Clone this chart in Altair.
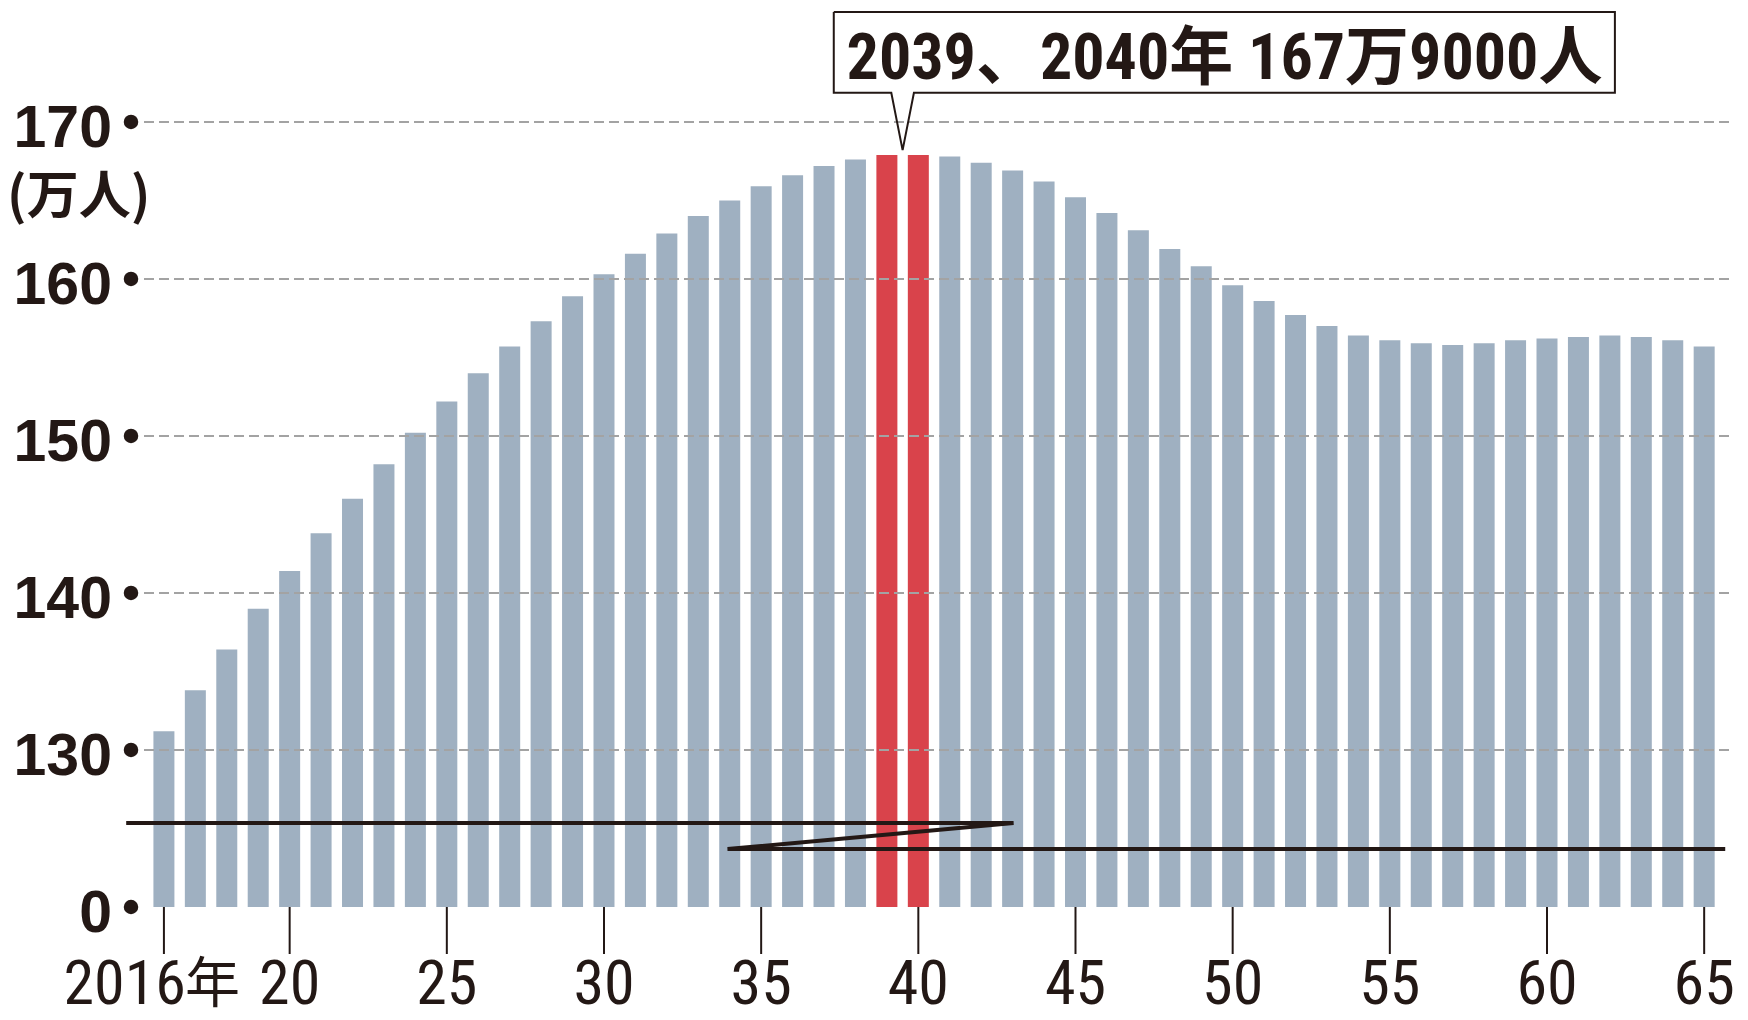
import altair as alt
import pandas as pd

# ---- data ----
years = list(range(2016, 2066))
deaths = [131.2, 133.8, 136.4, 139.0, 141.4, 143.8, 146.0, 148.2, 150.2, 152.2,
          154.0, 155.7, 157.3, 158.9, 160.3, 161.6, 162.9, 164.0, 165.0, 165.9,
          166.6, 167.2, 167.6, 167.9, 167.9, 167.8, 167.4, 166.9, 166.2, 165.2,
          164.2, 163.1, 161.9, 160.8, 159.6, 158.6, 157.7, 157.0, 156.4, 156.1,
          155.9, 155.8, 155.9, 156.1, 156.2, 156.3, 156.4, 156.3, 156.1, 155.7]
peak_years = [2039, 2040]
base_value = 120  # scale position drawn as "0" (axis is broken)

ytick_values = [120, 130, 140, 150, 160, 170]
ytick_labels = ["0", "130", "140", "150", "160", "170"]
grid_values = [130, 140, 150, 160, 170]
unit_label = "(万人)"
major_years = [2016, 2020, 2025, 2030, 2035, 2040, 2045, 2050, 2055, 2060, 2065]
major_labels = ["2016", "20", "25", "30", "35", "40", "45", "50", "55", "60", "65"]
first_suffix = "年"

# axis-break zigzag (year, value)
break_x = [2014.8, 2043.03, 2033.93, 2065.67]
break_y = [125.35, 125.35, 123.69, 123.69]

# callout box with pointer (year, value)
callout_x = [2037.31, 2062.16, 2062.16, 2039.86, 2039.5, 2039.14, 2037.31, 2037.31]
callout_y = [177.0, 177.0, 171.85, 171.85, 168.2, 171.85, 171.85, 177.0]
callout_text = "2039、2040年 167万9000人"
callout_pos = (2049.74, 172.75)

# ---- styling ----
W, H = 1582, 895
DARK = "#231815"
BAR = "#9fb0c1"
RED = "#d9434b"
GRID = "#a3a3a3"
NUM_FONT = "Liberation Sans"
NARROW = "Liberation Sans Narrow, Roboto Condensed, Liberation Sans, Noto Sans CJK JP"
CJK = "Noto Sans CJK JP"

xs = alt.Scale(domain=[2015.43, 2065.44], nice=False, zero=False)
ys = alt.Scale(domain=[120, 177], nice=False, zero=False)

df = pd.DataFrame({"year": years, "value": deaths})
df["base"] = base_value
df["kind"] = ["peak" if y in peak_years else "normal" for y in years]

bars = alt.Chart(df).mark_bar(size=21).encode(
    x=alt.X("year:Q", scale=xs,
            axis=alt.Axis(values=years, labels=False, title=None, grid=False,
                          ticks=True, tickSize=20, tickWidth=2, tickColor=DARK,
                          domain=True, domainWidth=3, domainColor=DARK)),
    y=alt.Y("value:Q", scale=ys, axis=None),
    y2=alt.Y2("base:Q"),
    color=alt.Color("kind:N", scale=alt.Scale(domain=["normal", "peak"], range=[BAR, RED]),
                    legend=None),
)

gdf = pd.DataFrame({"value": grid_values})
grid = alt.Chart(gdf).mark_rule(color=GRID, strokeWidth=2, strokeDash=[10, 5]).encode(
    y=alt.Y("value:Q", scale=ys, axis=None),
    x=alt.value(3),
    x2=alt.value(W + 6),
)

tdf = pd.DataFrame({"value": ytick_values, "label": ytick_labels})
dots = alt.Chart(tdf).mark_point(filled=True, size=210, color=DARK, opacity=1, shape="circle").encode(
    y=alt.Y("value:Q", scale=ys, axis=None),
    x=alt.value(-10),
)
ylabels = alt.Chart(tdf).mark_text(
    font=NUM_FONT, fontSize=59, fontWeight="bold", color=DARK,
    align="right", baseline="middle", dy=7
).encode(
    y=alt.Y("value:Q", scale=ys, axis=None),
    x=alt.value(-29),
    text="label:N",
)
unit = alt.Chart(pd.DataFrame({"t": [unit_label]})).mark_text(
    font=CJK, fontSize=52, fontWeight="bold", color=DARK, align="left", baseline="middle"
).encode(
    x=alt.value(-134),
    y=alt.value(186),
    text="t:N",
)

mdf = pd.DataFrame({"year": major_years, "label": major_labels})
major_ticks = alt.Chart(mdf).mark_rule(color=DARK, strokeWidth=2).encode(
    x=alt.X("year:Q", scale=xs, axis=None),
    y=alt.value(H),
    y2=alt.value(H + 47),
)

xlab_rest = alt.Chart(mdf[mdf["year"] != 2016]).mark_text(
    font=NARROW, fontSize=62, color=DARK, align="center", baseline="alphabetic"
).encode(
    x=alt.X("year:Q", scale=xs, axis=None),
    y=alt.value(H + 97),
    text="label:N",
)
xlab_first = alt.Chart(mdf[mdf["year"] == 2016]).mark_text(
    font=NARROW, fontSize=62, color=DARK, align="right", baseline="alphabetic", dx=22
).encode(
    x=alt.X("year:Q", scale=xs, axis=None),
    y=alt.value(H + 97),
    text="label:N",
)
xlab_suffix = alt.Chart(mdf[mdf["year"] == 2016].assign(s=first_suffix)).mark_text(
    font=CJK, fontSize=55, color=DARK, align="left", baseline="alphabetic", dx=21
).encode(
    x=alt.X("year:Q", scale=xs, axis=None),
    y=alt.value(H + 95),
    text="s:N",
)

bdf = pd.DataFrame({"x": break_x, "y": break_y, "i": list(range(len(break_x)))})
break_line = alt.Chart(bdf).mark_line(color=DARK, strokeWidth=4, clip=False).encode(
    x=alt.X("x:Q", scale=xs, axis=None),
    y=alt.Y("y:Q", scale=ys, axis=None),
    order="i:Q",
)

cdf = pd.DataFrame({"x": callout_x, "y": callout_y, "i": list(range(len(callout_x)))})
callout_box = alt.Chart(cdf).mark_line(color=DARK, strokeWidth=2, strokeJoin="miter", clip=False).encode(
    x=alt.X("x:Q", scale=xs, axis=None),
    y=alt.Y("y:Q", scale=ys, axis=None),
    order="i:Q",
)

ctdf = pd.DataFrame({"x": [callout_pos[0]], "y": [callout_pos[1]], "t": [callout_text]})
callout_label = alt.Chart(ctdf).mark_text(
    font=NARROW, fontSize=64, fontWeight="bold", color=DARK, align="center", baseline="alphabetic"
).encode(
    x=alt.X("x:Q", scale=xs, axis=None),
    y=alt.Y("y:Q", scale=ys, axis=None),
    text="t:N",
)

chart = alt.layer(
    bars, grid, dots, ylabels, unit, major_ticks, xlab_rest, xlab_first, xlab_suffix,
    break_line, callout_box, callout_label
).properties(
    width=W, height=H,
    autosize=alt.AutoSizeParams(type="none"),
    padding={"left": 133, "top": 4, "right": 17, "bottom": 113},
    background="white",
).configure_view(stroke=None)

chart.save("out.html", embed_options={"renderer": "svg", "actions": False})
